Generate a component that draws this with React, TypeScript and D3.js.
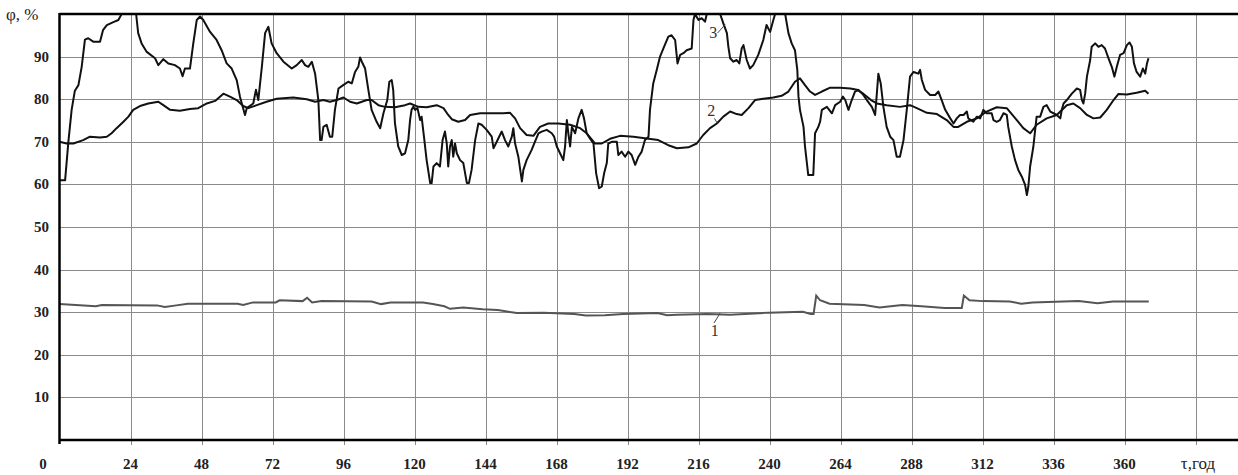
import { useEffect, useRef } from 'react'
import * as d3 from 'd3'

// curve 1: [hour, %]
const curve1: [number, number][] = [
  [0, 31.9], [12.3, 31.4], [14.3, 31.7], [33, 31.6], [35.6, 31.2], [39.5, 31.6], [43.4, 32.0],
  [60.2, 32.0], [62.1, 31.7], [65.4, 32.3], [73.1, 32.3], [74.4, 32.8], [82.2, 32.6], [83.7, 33.4],
  [85.4, 32.3], [88.6, 32.6], [105.5, 32.5], [108.7, 31.9], [111.9, 32.3], [122.9, 32.3],
  [126.2, 31.9], [130.1, 31.4], [132, 30.8], [136.5, 31.1], [143, 30.7], [148.2, 30.5],
  [154.6, 29.8], [163.7, 29.9], [174, 29.6], [177.9, 29.2], [184.4, 29.3], [190.5, 29.6],
  [202.1, 29.8], [205.4, 29.3], [208.6, 29.4], [219, 29.6], [226.7, 29.4], [239.7, 29.9],
  [251.3, 30.1], [253.9, 29.6], [254.9, 29.6], [255.8, 33.9], [257.1, 32.8], [260.3, 32.0],
  [272, 31.7], [277.2, 31.1], [281, 31.4], [284.9, 31.7], [291.4, 31.4], [299.2, 31.0],
  [305, 31.0], [305.7, 33.9], [307.6, 32.8], [312.1, 32.6], [321.2, 32.5], [325.1, 32.0],
  [328.9, 32.3], [344.5, 32.6], [350.9, 32.1], [356.1, 32.5], [368.2, 32.5],
]

// curve 2
const curve2: [number, number][] = [
  [0, 70], [2.4, 69.6], [4.7, 69.6], [8, 70.4], [10.3, 71.2], [13.7, 71], [16, 71.2], [17.6, 72],
  [19.3, 73.2], [21.6, 74.7], [23.3, 75.9], [24.9, 77.5], [27.2, 78.4], [30, 79], [33.4, 79.4],
  [35.1, 78.6], [37.4, 77.5], [40.7, 77.3], [44.1, 77.7], [46.9, 77.9], [49.8, 79], [52.6, 79.6],
  [55.4, 81.3], [57.6, 80.6], [59.9, 79.8], [62.1, 78.4], [63.8, 77.9], [66.7, 78.6], [70, 79.4],
  [73.4, 80.1], [79, 80.4], [83.6, 80], [86.4, 79.4], [89.2, 79.8], [91.4, 79.4], [93.7, 79.8],
  [96, 80.4], [98.2, 79.4], [100.5, 79], [103.9, 79.8], [105.5, 79.8], [107.8, 78.6], [110, 78.2],
  [113.4, 78.1], [116.8, 78.6], [118.5, 79], [121.3, 78.2], [124.1, 78.1], [127.5, 78.6],
  [129.8, 77.9], [131.4, 76.3], [132.6, 75.3], [134.8, 74.7], [137.1, 75.1], [138.8, 76.3],
  [142.2, 76.7], [146.7, 76.7], [150, 76.7], [152.3, 76.8], [154, 75.5], [155.7, 73.2],
  [157.9, 71.6], [160.2, 71.4], [162.4, 73.5], [165.2, 74.3], [168.6, 74.3], [172.6, 74],
  [176, 73.2], [178.2, 72], [181, 69.6], [183.3, 69.6], [186.1, 70.7], [189.5, 71.4], [194, 71.2],
  [198.5, 70.8], [202.4, 70.4], [205.8, 69.2], [208.7, 68.5], [212.6, 68.7], [215.4, 69.6],
  [217.6, 71.6], [219.9, 73.2], [222.2, 74.3], [224.4, 75.9], [226.7, 77.1], [228.9, 76.5],
  [230.6, 76.3], [232.9, 77.9], [235.1, 79.8], [237.9, 80.1], [241.3, 80.4], [244.1, 80.8],
  [246.4, 81.8], [248.6, 84.1], [250.3, 84.9], [252, 83.3], [253.7, 81.8], [255.4, 81],
  [257.7, 81.8], [260.5, 82.7], [263.9, 82.7], [267.3, 82.5], [269.6, 82.2], [271.7, 81.3],
  [274.3, 79.8], [276.3, 79], [279.6, 78.6], [284.1, 78.2], [287.5, 78.6], [289.8, 77.9],
  [293.2, 76.8], [296.6, 76.5], [299.9, 75.1], [302.2, 73.5], [303.8, 73.5], [306.7, 74.7],
  [310.1, 75.5], [313.4, 77.1], [316.8, 78.1], [320.2, 77.9], [323.6, 75.1], [325.8, 73.2],
  [328.1, 72], [330.3, 74], [333.7, 75.5], [337.1, 76.3], [340.5, 78.6], [342.7, 79], [345, 77.9],
  [347.3, 76.3], [349.5, 75.5], [351.8, 75.7], [354, 77.5], [356.3, 79.8], [357.9, 81.2],
  [360.8, 81.1], [364.1, 81.5], [367, 82], [368.1, 81.3],
]

// curve 3 (values above 100 are cut by the frame)
const curve3: [number, number][] = [
  [0, 61], [1.9, 61], [3, 70], [4.1, 77.5], [5.2, 82], [6.4, 83.3], [7.5, 87.6], [8.6, 94],
  [9.7, 94.3], [11.4, 93.5], [13.7, 93.5], [14.7, 96.2], [16, 97.4], [18.2, 98.1], [19.9, 98.6],
  [21, 100], [23, 103], [25, 102], [25.9, 100], [26.6, 95.5], [27.8, 93], [29.5, 91.1],
  [32.3, 89.6], [33.4, 88], [35.1, 89.4], [36.8, 88.4], [39, 88], [40.7, 87.2], [41.6, 85.4],
  [42.4, 87.2], [44.1, 87.2], [45.2, 93], [46.4, 98.6], [47.5, 99.4], [48.6, 98.6], [50.9, 95.8],
  [53.1, 93.9], [54.8, 91.5], [56.5, 88.4], [58.2, 87.2], [59.9, 84.5], [61, 80.6], [62.7, 76.3],
  [63.3, 77.9], [65.5, 79], [66.4, 82.2], [67.2, 79.8], [68.4, 87.6], [69.5, 95.5], [70.6, 97],
  [71.7, 93.1], [73.4, 90.8], [75.7, 88.8], [78.5, 87.2], [80.2, 88], [81.9, 89.2], [83, 88],
  [84.1, 87.6], [85.3, 88.8], [86.4, 86], [87.5, 79.8], [88.1, 70.4], [88.6, 70.4], [89.2, 73.5],
  [90.3, 74], [91.4, 71.2], [92.2, 71.2], [93.1, 77.5], [94.3, 82.5], [95.9, 83.3], [97.6, 84.1],
  [98.8, 83.7], [99.9, 86.4], [101, 87.6], [101.6, 89.8], [102.2, 88.8], [103.3, 87.2],
  [104.4, 82.2], [105.5, 77.5], [107.2, 74.7], [108.4, 73.2], [109.5, 76.7], [110.8, 79.8],
  [111.5, 84.1], [112.3, 84.5], [112.8, 82.2], [113.4, 74.3], [114.5, 68.9], [115.7, 66.9],
  [116.8, 67.3], [117.9, 70.4], [118.5, 75.1], [119, 77.5], [119.6, 78.2], [120.2, 77.5],
  [121, 77.9], [121.9, 75.1], [122.4, 75.9], [123.2, 71.2], [124.1, 65.7], [125.3, 60.3],
  [125.8, 60.3], [126.4, 64.2], [127.5, 65], [128.6, 64.2], [129.5, 70.4], [130.3, 72.4],
  [130.9, 69.6], [131.4, 64.2], [132, 68.9], [132.6, 70.4], [133.1, 66.5], [133.7, 69.6],
  [134.3, 67.3], [135.4, 65.7], [136.5, 65], [137.7, 60.3], [138.4, 60.3], [139.3, 63.4],
  [140.5, 70.4], [141.6, 74.3], [142.7, 74], [144.4, 72.8], [146.1, 71.2], [146.7, 68.5],
  [147.8, 70], [148.9, 71.6], [149.5, 72.4], [150.6, 70.4], [151.7, 68.9], [152.9, 71.2],
  [153.4, 73.2], [154, 69.6], [155.1, 66.5], [156.3, 60.7], [156.8, 63.4], [157.9, 65.7],
  [159.6, 68.1], [160.7, 70], [161.9, 72], [163, 72.4], [164.7, 72.8], [166.4, 72], [167.2, 71.2],
  [168.1, 68.9], [169.2, 67.3], [170.3, 65.7], [170.9, 68.9], [171.5, 75.1], [172, 72],
  [172.6, 68.9], [173.2, 73.5], [174.3, 72], [175.4, 75.5], [176.5, 77.5], [177.3, 75.5],
  [178.2, 72], [179.3, 70.8], [180.5, 69.6], [181.4, 62.6], [182.4, 59.1], [183.3, 59.5],
  [184.1, 62.6], [185, 65], [185.5, 69.6], [186.7, 70], [188.4, 70], [188.9, 66.9], [190, 67.7],
  [191.2, 66.5], [192.3, 67.7], [193.4, 66.9], [194.6, 64.6], [195.7, 66.5], [196.8, 67.7],
  [197.9, 70.4], [199.1, 71.2], [199.6, 77.5], [200.7, 83.7], [201.9, 86.9], [203, 90],
  [204.1, 91.9], [205.8, 94.7], [206.9, 95], [208.1, 93.9], [208.9, 88.4], [209.8, 90.4],
  [210.9, 90.8], [212, 91.5], [213.7, 91.9], [214.3, 98.6], [214.8, 100], [216, 98.6], [217.1, 99],
  [218.2, 98.2], [218.8, 100], [221, 102], [223.3, 100], [224.4, 97.8], [225.6, 95.5],
  [226.1, 92.3], [226.7, 89.6], [227.8, 88.8], [228.9, 89.2], [229.8, 88.4], [230.6, 91.9],
  [231.2, 92.7], [232.3, 89.2], [233.4, 87.2], [234.5, 88], [236.2, 90.4], [237.9, 93.9],
  [239, 97.4], [240.2, 95.8], [241.3, 98.6], [241.9, 100], [243.5, 102], [245.3, 100],
  [246.4, 95.5], [247.5, 93.1], [248.6, 91.5], [249.4, 86.9], [249.8, 80.6], [250.3, 77.5],
  [251.5, 73.5], [252, 68.9], [253.1, 62.2], [254.8, 62.2], [255.4, 72], [256.5, 73.5],
  [257.1, 74.7], [257.7, 77.5], [259.4, 78.2], [261.1, 76.7], [262.2, 78.6], [263.9, 79.4],
  [264.8, 80.6], [265.6, 79.8], [266.7, 77.5], [267.8, 79.8], [268.9, 81.8], [270.1, 82.2],
  [271.7, 81], [272.9, 79.8], [274.6, 78.2], [275.7, 76.3], [276.3, 81.5], [276.8, 86],
  [277.6, 83.7], [278.5, 78.2], [279.6, 73.5], [280.8, 71.2], [281.9, 70.4], [283, 66.5],
  [284.1, 66.5], [285.3, 70.4], [286.4, 77.5], [287.5, 85.3], [288.7, 86.4], [290.3, 86],
  [290.9, 86.9], [291.5, 84.5], [292.6, 82.2], [294.3, 81], [296, 81], [297.1, 81.8],
  [298.2, 79.8], [299.4, 77.5], [301.1, 75.5], [302.2, 74.3], [303.3, 75.5], [304.4, 76.3],
  [305.6, 76.3], [306.7, 77.1], [307.2, 75.5], [308.9, 74.7], [310.1, 75.9], [311.2, 75.5],
  [312.3, 77.5], [313.4, 76.7], [315.1, 76.7], [315.7, 75.1], [316.8, 74.7], [317.9, 75.1],
  [319.1, 76.7], [320.2, 76.3], [320.7, 73.5], [321.9, 68.9], [323, 65.7], [324.1, 63.4],
  [325.3, 61.8], [326.4, 59.9], [327, 57.5], [327.5, 59.5], [328.1, 64.2], [329.2, 68.9],
  [329.8, 72.8], [330.3, 75.9], [331.5, 75.9], [332.6, 78.2], [333.7, 78.6], [334.9, 77.1],
  [336, 76.7], [337.1, 76.3], [338.3, 75.5], [338.8, 77.5], [339.4, 79], [340.5, 79.8],
  [342.2, 81.3], [343.9, 82.5], [345, 82.2], [345.6, 79.8], [346.1, 79], [346.7, 81.3],
  [347.3, 85.3], [348.4, 89.2], [348.9, 92.3], [350.1, 93.1], [351.2, 92.3], [352.3, 92.7],
  [353.4, 91.9], [354.6, 89.6], [355.7, 87.6], [356.6, 85.3], [357.4, 87.6], [358.5, 90.4],
  [359.7, 90.8], [360.8, 92.7], [361.7, 93.3], [362.5, 92.3], [363.2, 88.4], [364.1, 86.4],
  [365.3, 85.3], [366.2, 87.2], [367, 86], [367.6, 88.4], [368.1, 89.6],
]

const yTicks = [10, 20, 30, 40, 50, 60, 70, 80, 90]
const xTicks = [0, 24, 48, 72, 96, 120, 144, 168, 192, 216, 240, 264, 288, 312, 336, 360, 384]
const xTickLabels = ['0', '24', '48', '72', '96', '120', '144', '168', '192', '216', '240', '264', '288', '312', '336', '360', '']

// curve number labels: [hour, %] of text and leader line end
const curveLabels = [
  { text: '1', at: [221.5, 24.5], from: [221.3, 27.5], to: [223.3, 29.8] },
  { text: '2', at: [220.3, 76], from: [221.4, 75.5], to: [222.4, 74.3] },
  { text: '3', at: [221, 94.4], from: [222.4, 95.5], to: [225, 97.5] },
]

const W = 1238
const H = 475
const serif = "'Liberation Serif', 'Times New Roman', serif"

const App = () => {
  const svgRef = useRef<SVGSVGElement | null>(null)

  useEffect(() => {
    if (!svgRef.current) return
    const svg = d3.select(svgRef.current)
    svg.selectAll('*').remove()

    const left = 59.5
    const top = 14
    const bottom = 440

    const x = d3.scaleLinear().domain([0, 384]).range([left, 1195.5])
    const y = d3.scaleLinear().domain([0, 100]).range([bottom, top])

    svg.append('defs')
      .append('clipPath')
      .attr('id', 'plot-clip')
      .append('rect')
      .attr('x', left)
      .attr('y', top)
      .attr('width', W - left)
      .attr('height', bottom - top)

    // grid
    const grid = svg.append('g').attr('stroke', '#8a8a8a').attr('stroke-width', 1)
    grid.selectAll('line.h')
      .data(yTicks)
      .enter()
      .append('line')
      .attr('x1', left)
      .attr('x2', W)
      .attr('y1', d => Math.round(y(d)) + 0.5)
      .attr('y2', d => Math.round(y(d)) + 0.5)
    grid.selectAll('line.v')
      .data(xTicks.slice(1))
      .enter()
      .append('line')
      .attr('x1', d => Math.round(x(d)) + 0.5)
      .attr('x2', d => Math.round(x(d)) + 0.5)
      .attr('y1', top)
      .attr('y2', bottom + 5)

    // curves
    const line = d3.line<[number, number]>()
      .x(d => x(d[0]))
      .y(d => y(d[1]))

    const plot = svg.append('g').attr('clip-path', 'url(#plot-clip)').attr('fill', 'none')
    plot.append('path')
      .attr('d', line(curve1))
      .attr('stroke', '#555')
      .attr('stroke-width', 2)
    plot.append('path')
      .attr('d', line(curve2))
      .attr('stroke', '#111')
      .attr('stroke-width', 2)
      .attr('stroke-linejoin', 'round')
    plot.append('path')
      .attr('d', line(curve3))
      .attr('stroke', '#111')
      .attr('stroke-width', 2)
      .attr('stroke-linejoin', 'round')

    // frame
    svg.append('line')
      .attr('x1', left).attr('x2', W)
      .attr('y1', top).attr('y2', top)
      .attr('stroke', '#000').attr('stroke-width', 2.5)
    svg.append('line')
      .attr('x1', left).attr('x2', W)
      .attr('y1', bottom).attr('y2', bottom)
      .attr('stroke', '#000').attr('stroke-width', 2.5)
    svg.append('line')
      .attr('x1', left).attr('x2', left)
      .attr('y1', top - 1).attr('y2', bottom + 4)
      .attr('stroke', '#000').attr('stroke-width', 2.5)

    // y tick labels
    svg.append('g')
      .selectAll('text')
      .data(yTicks)
      .enter()
      .append('text')
      .attr('x', 49)
      .attr('y', d => y(d) + 5)
      .attr('text-anchor', 'end')
      .attr('font-family', serif)
      .attr('font-size', 15)
      .attr('font-weight', 'bold')
      .attr('fill', '#222')
      .text(d => d)

    // x tick labels
    svg.append('g')
      .selectAll('text')
      .data(xTicks)
      .enter()
      .append('text')
      .attr('x', (d, i) => (i === 0 ? 43 : x(d)))
      .attr('y', 469)
      .attr('text-anchor', 'middle')
      .attr('font-family', serif)
      .attr('font-size', 15)
      .attr('font-weight', 'bold')
      .attr('fill', '#222')
      .text((_, i) => xTickLabels[i])

    // axis titles
    svg.append('text')
      .attr('x', 6)
      .attr('y', 20)
      .attr('font-family', serif)
      .attr('font-size', 17)
      .attr('fill', '#222')
      .text('φ, %')
    svg.append('text')
      .attr('x', 1198)
      .attr('y', 469)
      .attr('text-anchor', 'middle')
      .attr('font-family', serif)
      .attr('font-size', 17)
      .attr('fill', '#222')
      .text('τ,год')

    // curve number labels
    const lab = svg.append('g')
    curveLabels.forEach(c => {
      lab.append('line')
        .attr('x1', x(c.from[0])).attr('y1', y(c.from[1]))
        .attr('x2', x(c.to[0])).attr('y2', y(c.to[1]))
        .attr('stroke', '#444').attr('stroke-width', 1)
      lab.append('text')
        .attr('x', x(c.at[0]))
        .attr('y', y(c.at[1]))
        .attr('text-anchor', 'middle')
        .attr('font-family', serif)
        .attr('font-size', 16)
        .attr('fill', '#333')
        .text(c.text)
    })
  }, [])

  return (
    <svg
      ref={svgRef}
      width={W}
      height={H}
      style={{ position: 'absolute', left: 0, top: 0, background: '#fff' }}
    />
  )
}

export default App
